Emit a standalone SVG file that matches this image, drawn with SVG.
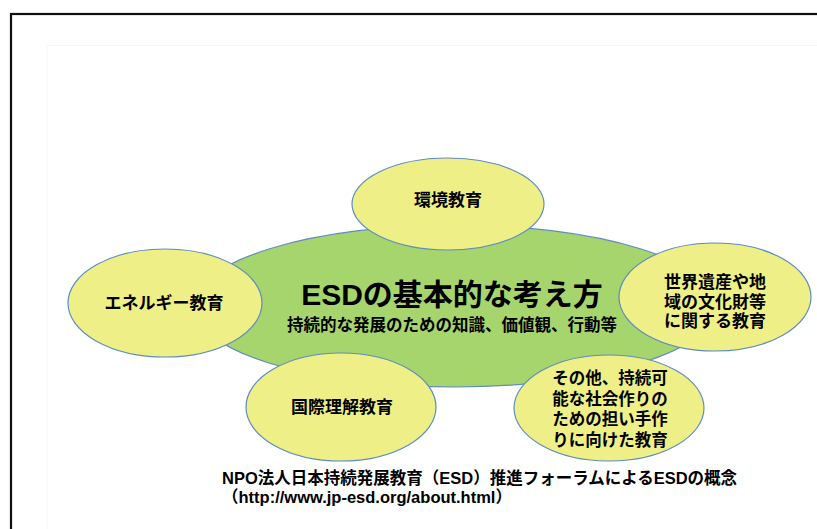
<svg xmlns="http://www.w3.org/2000/svg" width="817" height="529" viewBox="0 0 817 529">
<style>
.t{font-family:"Liberation Sans","Noto Sans CJK JP",sans-serif;font-weight:bold;fill:#000;text-anchor:middle}
.sub{font-size:17px}
.y{fill:#eef087;stroke:#5f8cc0;stroke-width:1.2}
.g{fill:#a7d56d;stroke:#5f8cc0;stroke-width:1.2}
.f{font-family:"Liberation Sans","Noto Sans CJK JP",sans-serif;font-weight:bold;font-size:16.5px;fill:#000}
</style>
<rect x="0" y="0" width="817" height="529" fill="#fff"/>
<rect x="11" y="14" width="830" height="540" fill="none" stroke="#111" stroke-width="2.2"/>
<path d="M47 545 V45.5 H830" fill="none" stroke="#f4f4f4" stroke-width="1"/>
<g id="center">
<ellipse class="g" cx="455" cy="306" rx="262" ry="81"/>
<text class="t" x="452" y="305" font-size="30">ESDの基本的な考え方</text>
<text class="t" x="452" y="331" font-size="16.5">持続的な発展のための知識、価値観、行動等</text>
</g>
<g id="kankyo">
<ellipse class="y" cx="448" cy="204" rx="96" ry="46"/>
<text class="t sub" x="448" y="206">環境教育</text>
</g>
<g id="energy">
<ellipse class="y" cx="165" cy="303" rx="97" ry="54"/>
<text class="t sub" x="164" y="309">エネルギー教育</text>
</g>
<g id="isan">
<ellipse class="y" cx="715" cy="297" rx="96" ry="54"/>
<text class="t sub" x="715" y="288">世界遺産や地</text>
<text class="t sub" x="715" y="308">域の文化財等</text>
<text class="t sub" x="715" y="327">に関する教育</text>
</g>
<g id="kokusai">
<ellipse class="y" cx="341" cy="407" rx="95" ry="54"/>
<text class="t sub" x="342" y="413">国際理解教育</text>
</g>
<g id="sonota">
<ellipse class="y" cx="609" cy="408" rx="95" ry="53"/>
<text class="t" x="610" y="384" font-size="16.5">その他、持続可</text>
<text class="t" x="610" y="405" font-size="16.5">能な社会作りの</text>
<text class="t" x="610" y="425" font-size="16.5">ための担い手作</text>
<text class="t" x="610" y="446" font-size="16.5">りに向けた教育</text>
</g>
<g id="connectors"></g>
<g id="caption">
<text class="f" x="222" y="484">NPO法人日本持続発展教育（ESD）推進フォーラムによるESDの概念</text>
<text class="f" x="222" y="503">（http://www.jp-esd.org/about.html）</text>
</g>
</svg>
